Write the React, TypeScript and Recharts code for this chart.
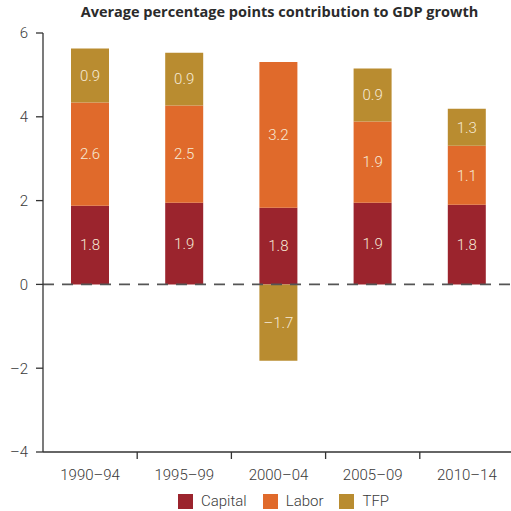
import { Bar, BarChart, LabelList, ReferenceLine, XAxis, YAxis } from "recharts";

const categories = ["1990–94", "1995–99", "2000–04", "2005–09", "2010–14"];
// segment heights as drawn in the picture
const capital = [1.88, 1.95, 1.83, 1.95, 1.9];
const labor = [2.46, 2.32, 3.48, 1.94, 1.41];
const tfp = [1.29, 1.26, -1.82, 1.26, 0.88];
// printed labels
const capitalLabels = ["1.8", "1.9", "1.8", "1.9", "1.8"];
const laborLabels = ["2.6", "2.5", "3.2", "1.9", "1.1"];
const tfpLabels = ["0.9", "0.9", "–1.7", "0.9", "1.3"];
const yTicks = [-4, -2, 0, 2, 4, 6];

const series = [
  { key: "capital", name: "Capital", color: "#9b242d" },
  { key: "labor", name: "Labor", color: "#e06a2b" },
  { key: "tfp", name: "TFP", color: "#b98c30" },
];

const data = categories.map((period, i) => ({
  period,
  capital: capital[i],
  labor: labor[i],
  tfp: tfp[i],
  capitalLabel: capitalLabels[i],
  laborLabel: laborLabels[i],
  tfpLabel: tfpLabels[i],
}));

const FONT = "Roboto, 'Noto Sans', sans-serif";
const TEXT = "#3a3a3a";

function PeriodTick(props: any) {
  const { x, y, payload, index } = props;
  return (
    <g>
      {index < categories.length - 1 && (
        <line x1={x + 47.1} x2={x + 47.1} y1={y} y2={y + 7} stroke="#333" strokeWidth={1.3} />
      )}
      <text x={x} y={y + 28} textAnchor="middle" fill={TEXT} fontSize={15} fontFamily={FONT} fontWeight={300}>
        {payload.value}
      </text>
    </g>
  );
}

export default function App() {
  return (
    <div style={{ position: "absolute", left: 0, top: 0, width: 511, height: 511, overflow: "hidden", background: "#fff" }}>
      <div
        style={{
          position: "absolute",
          top: 2,
          left: 0,
          width: 559,
          textAlign: "center",
          fontFamily: "'Open Sans', sans-serif",
          fontWeight: 700,
          fontSize: 14.5,
          color: "#2b2b2b",
        }}
      >
        Average percentage points contribution to GDP growth
      </div>
      <BarChart
        width={514}
        height={511}
        data={data}
        stackOffset="sign"
        barSize={38}
        margin={{ top: 33, right: 0, left: 0, bottom: 29 }}
      >
        <XAxis
          dataKey="period"
          interval={0}
          height={30}
          tickSize={0}
          tickMargin={0}
          tick={<PeriodTick />}
          axisLine={{ stroke: "#333", strokeWidth: 1.3 }}
        />
        <YAxis
          domain={[-4, 6]}
          ticks={yTicks}
          width={43}
          tickSize={7}
          tickMargin={8}
          tickFormatter={(v: number) => (v < 0 ? `–${Math.abs(v)}` : `${v}`)}
          tick={{ fill: TEXT, fontSize: 15, fontFamily: FONT, fontWeight: 300 }}
          tickLine={{ stroke: "#333", strokeWidth: 1.3 }}
          axisLine={{ stroke: "#333", strokeWidth: 1.3 }}
        />
        {series.map((s) => (
          <Bar key={s.key} dataKey={s.key} name={s.name} stackId="a" fill={s.color} isAnimationActive={false}>
            <LabelList
              dataKey={`${s.key}Label`}
              position="center"
              fill="#f6ead6"
              fontSize={15}
              fontFamily={FONT}
              fontWeight={300}
            />
          </Bar>
        ))}
        <ReferenceLine y={0} stroke="#555" strokeWidth={1.7} strokeDasharray="11 8" />
      </BarChart>
      <div
        style={{
          position: "absolute",
          top: 492,
          left: 178,
          display: "flex",
          alignItems: "center",
          fontFamily: FONT,
          fontWeight: 300,
          fontSize: 15,
          color: TEXT,
        }}
      >
        {series.map((s) => (
          <div key={s.key} style={{ display: "flex", alignItems: "center", marginRight: 16 }}>
            <span style={{ width: 15, height: 15, background: s.color, display: "inline-block", marginRight: 8 }} />
            <span>{s.name}</span>
          </div>
        ))}
      </div>
    </div>
  );
}
